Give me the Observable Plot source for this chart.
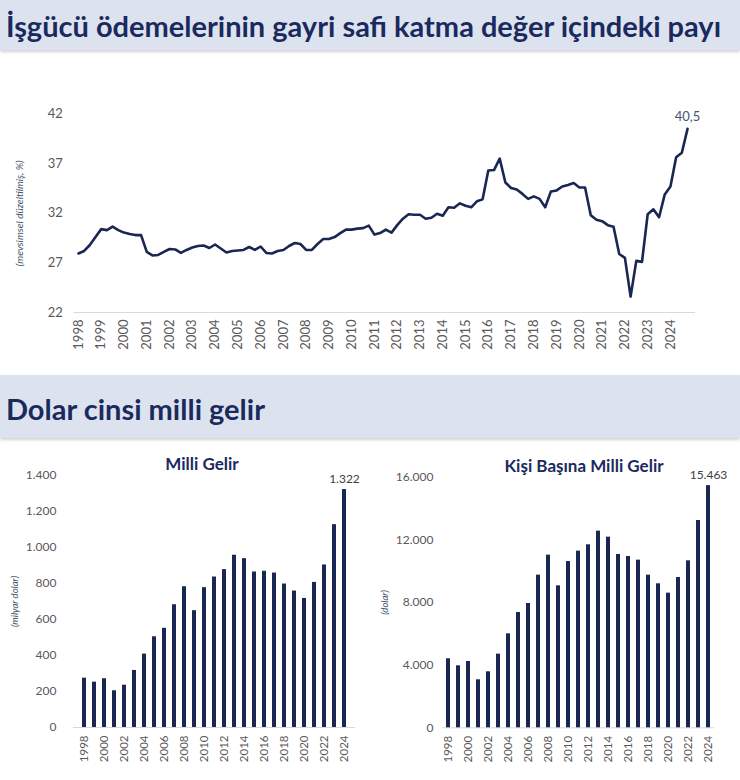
<!DOCTYPE html>
<html>
<head>
<meta charset="utf-8">
<script src="https://cdn.jsdelivr.net/npm/d3@7"></script>
<script src="https://cdn.jsdelivr.net/npm/@observablehq/plot@0.6"></script>
<style>
  body { margin:0; width:740px; height:780px; position:relative; background:#fff; overflow:hidden; font-family:Lato, "Open Sans", sans-serif; }
  .band { position:absolute; left:0; width:740px; background:#dce3ef; box-shadow:0 2px 3px rgba(0,0,0,0.18); color:#1b2a5e; font-weight:700; box-sizing:border-box; padding-left:6px; white-space:nowrap; }
  .ctitle { position:absolute; color:#1b2a5e; font-weight:700; font-size:17px; transform:translate(-50%,-50%); white-space:nowrap; }
  .chart { position:absolute; }
</style>
</head>
<body>
<div class="band" style="top:0;height:50px;font-size:29px;line-height:52px;">İşgücü ödemelerinin gayri safi katma değer içindeki payı</div>
<div class="chart" id="line" style="top:60px;left:0"></div>
<div class="band" style="top:375px;height:63px;font-size:29px;line-height:68px;">Dolar cinsi milli gelir</div>
<div class="ctitle" style="left:202px;top:463px">Milli Gelir</div>
<div class="ctitle" style="left:584px;top:465px">Kişi Başına Milli Gelir</div>
<div class="chart" id="bar1" style="top:440px;left:0"></div>
<div class="chart" id="bar2" style="top:440px;left:370px"></div>
<script>
// ---- Data ----
const lineStartYear = 1998;
const lineYearTicks = d3.range(1998, 2025);
const laborShare = [
  27.95, 28.2, 28.8, 29.6,   // 1998
  30.4, 30.3, 30.65, 30.3,   // 1999
  30.05, 29.9, 29.8, 29.8,   // 2000
  28.1, 27.75, 27.8, 28.1,   // 2001
  28.4, 28.35, 28.0, 28.3,   // 2002
  28.55, 28.7, 28.75, 28.5,  // 2003
  28.85, 28.45, 28.05, 28.2, // 2004
  28.25, 28.3, 28.6, 28.3,   // 2005
  28.65, 28.0, 27.95, 28.2,  // 2006
  28.3, 28.7, 29.0, 28.9,    // 2007
  28.3, 28.3, 28.9, 29.4,    // 2008
  29.4, 29.6, 30.0, 30.35,   // 2009
  30.35, 30.45, 30.5, 30.75, // 2010
  29.85, 30.0, 30.35, 30.05, // 2011
  30.8, 31.45, 31.9, 31.85,  // 2012
  31.85, 31.45, 31.55, 31.95,// 2013
  31.75, 32.6, 32.55, 33.0,  // 2014
  32.75, 32.6, 33.2, 33.4,   // 2015
  36.3, 36.35, 37.5, 35.1,   // 2016
  34.55, 34.4, 33.95, 33.45, // 2017
  33.7, 33.45, 32.6, 34.2,   // 2018
  34.3, 34.7, 34.85, 35.05,  // 2019
  34.6, 34.6, 31.8, 31.35,   // 2020
  31.2, 30.8, 30.65, 27.9,   // 2021
  27.5, 23.6, 27.2, 27.1,    // 2022
  31.9, 32.4, 31.6, 33.9,    // 2023
  34.7, 37.65, 38.1, 40.5    // 2024
];
const lineYTicks = [22, 27, 32, 37, 42];

const barYears = d3.range(1998, 2025);
const barTickYears = d3.range(1998, 2025, 2);
const milliGelir = [274, 252, 271, 204, 235, 317, 408, 504, 551, 682, 782, 649, 777, 836, 877, 957, 938, 864, 868, 858, 797, 758, 717, 806, 903, 1127, 1322];
const kisiBasina = [4405, 3958, 4235, 3064, 3575, 4703, 6000, 7363, 7937, 9746, 11023, 9065, 10619, 11278, 11683, 12555, 12172, 11066, 10938, 10704, 9746, 9193, 8597, 9597, 10661, 13236, 15463];
const milliTicks = [0, 200, 400, 600, 800, 1000, 1200, 1400];
const kisiTicks = [0, 4000, 8000, 12000, 16000];

// ---- Helpers ----
const loc = d3.formatLocale({decimal: ",", thousands: ".", grouping: [3], currency: ["", ""]});
const fmtInt = loc.format(",d");
const fmt1 = loc.format(".1f");
const NAVY = "#1a2752";
const GRAY = "#595959";
const FONT = "Lato, 'Open Sans', sans-serif";

const lineData = laborShare.map((v, i) => ({t: lineStartYear + i / 4, v}));
const last = lineData[lineData.length - 1];

const linePlot = Plot.plot({
  width: 740, height: 300,
  marginLeft: 73.4, marginRight: 45, marginTop: 53.5, marginBottom: 48,
  style: {fontFamily: FONT, background: "transparent"},
  x: {domain: [1997.8, 2025.1]},
  y: {domain: [22, 42]},
  marks: [
    Plot.ruleY([22], {stroke: "#d9d9d9"}),
    Plot.axisY({ticks: lineYTicks, tickSize: 0, tickPadding: 11, fontSize: 13, fill: GRAY, label: null}),
    Plot.axisX({ticks: lineYearTicks, tickFormat: d => String(d), tickRotate: -90, tickSize: 0, tickPadding: 7, fontSize: 13, fill: GRAY, label: null}),
    Plot.line(lineData, {x: "t", y: "v", stroke: NAVY, strokeWidth: 2.6, strokeLinejoin: "round"}),
    Plot.text([last], {x: "t", y: "v", text: d => fmt1(d.v), dy: -12, fontSize: 13, fill: "#44546a"}),
    Plot.text(["(mevsimsel düzeltilmiş, %)"], {frameAnchor: "left", dx: -54, rotate: -90, textAnchor: "middle", fontSize: 10, fontStyle: "italic", fill: "#44546a"})
  ]
});
document.getElementById("line").append(linePlot);

function barChart(values, ticks, domainMax, opts) {
  const data = barYears.map((y, i) => ({year: y, value: values[i]}));
  const lastBar = data[data.length - 1];
  return Plot.plot({
    width: 370, height: 340,
    marginLeft: opts.ml, marginRight: opts.mr, marginTop: opts.mt, marginBottom: opts.mb,
    style: {fontFamily: FONT, background: "transparent"},
    x: {type: "band", domain: barYears, paddingInner: 0.57, paddingOuter: opts.po},
    y: {domain: [0, domainMax]},
    marks: [
      Plot.ruleY([0], {stroke: "#d9d9d9"}),
      Plot.axisY({ticks, tickFormat: fmtInt, tickSize: 0, tickPadding: opts.tp, fontSize: 12, fill: GRAY, label: null}),
      Plot.axisX({ticks: barTickYears, tickFormat: d => String(d), tickRotate: -90, tickSize: 0, tickPadding: 8, fontSize: 11.5, fill: GRAY, label: null}),
      Plot.barY(data, {x: "year", y: "value", fill: NAVY}),
      Plot.text([lastBar], {x: "year", y: "value", text: d => fmtInt(d.value), dy: -10, fontSize: 12, fill: "#404040"}),
      Plot.text([opts.ylabel], {frameAnchor: "left", dx: opts.ldx, rotate: -90, textAnchor: "middle", fontSize: 9.5, fontStyle: "italic", fill: "#44546a"})
    ]
  });
}

document.getElementById("bar1").append(barChart(milliGelir, milliTicks, 1400,
  {ml: 73, mr: 15, mt: 35, mb: 53, po: 0.33, tp: 17, ldx: -59, ylabel: "(milyar dolar)"}));
document.getElementById("bar2").append(barChart(kisiBasina, kisiTicks, 16000,
  {ml: 72, mr: 26, mt: 36.7, mb: 52.7, po: 0.28, tp: 9, ldx: -58, ylabel: "(dolar)"}));
</script>
</body>
</html>
